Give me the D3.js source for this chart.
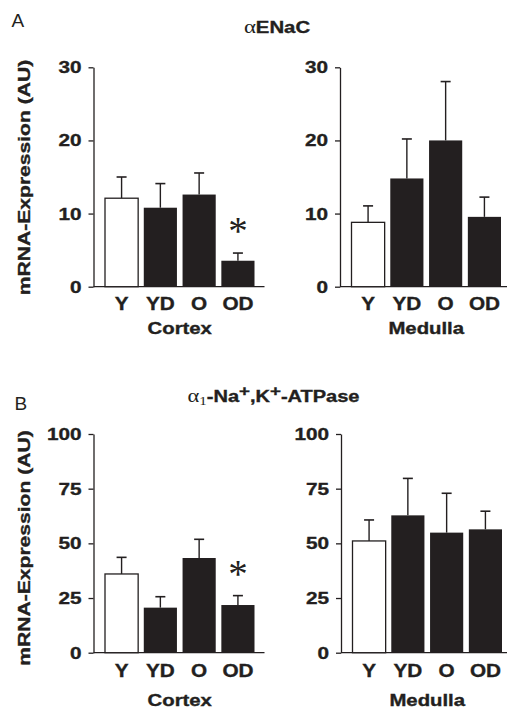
<!DOCTYPE html>
<html>
<head>
<meta charset="utf-8">
<script src="https://cdn.jsdelivr.net/npm/d3@7"></script>
<style>
  body { margin: 0; background: #fff; }
  text { font-family: "Liberation Sans", Arial, sans-serif; fill: #231f20; }
  text.heavy { stroke: #231f20; stroke-width: 0.35; }
</style>
</head>
<body>
<script>
// group labels
const cats = ["Y", "YD", "O", "OD"];

// alpha ENaC (AU), mean and SEM
const enacCortex = [12.1, 10.8, 12.6, 3.55];
const enacCortexErr = [2.9, 3.3, 2.95, 1.05];
const enacMedulla = [8.8, 14.8, 20.0, 9.55];
const enacMedullaErr = [2.25, 5.4, 8.05, 2.7];

// alpha1 Na,K-ATPase (AU)
const atpCortex = [36.0, 20.6, 43.3, 21.8];
const atpCortexErr = [7.6, 5.0, 8.55, 4.3];
const atpMedulla = [51.1, 62.8, 54.9, 56.4];
const atpMedullaErr = [9.6, 16.9, 18.0, 8.3];

// significance marks (asterisk)
const cortexSig = [false, false, false, true];
const medullaSig = [false, false, false, false];

const enacTicks = [0, 10, 20, 30];
const atpTicks = [0, 25, 50, 75, 100];

const ink = "#231f20";
const width = 507, height = 711;

const svg = d3.select("body").append("svg")
  .attr("width", width)
  .attr("height", height);

// stretch text along its baseline (the original lettering is wide)
function widen(sel, k) {
  sel.each(function() {
    var w = this.getComputedTextLength();
    d3.select(this).attr("textLength", w * k).attr("lengthAdjust", "spacingAndGlyphs");
  });
}

var yTop = d3.scaleLinear().domain([0, 30]).range([286.7, 67.3]);
var yBot = d3.scaleLinear().domain([0, 100]).range([652.7, 434]);

function drawPanel(p) {
  var x = d3.scaleBand()
    .domain(cats)
    .range([p.ax + 11.5, p.ax + 161])
    .paddingInner(0.145)
    .paddingOuter(0);
  var y = p.y;
  var g = svg.append("g");

  var axis = g.append("g")
    .attr("transform", `translate(${p.ax},0)`)
    .call(d3.axisLeft(y).tickValues(p.ticks).tickSize(5).tickSizeOuter(0).tickPadding(7));
  axis.select(".domain").attr("stroke", ink).attr("stroke-width", 1.3);
  axis.selectAll(".tick line").attr("stroke", ink).attr("stroke-width", 1.3);
  var tl = axis.selectAll(".tick text")
    .attr("class", "heavy")
    .attr("font-size", 17)
    .attr("font-weight", "bold")
    .attr("fill", ink)
    .style("font-family", '"Liberation Sans", Arial, sans-serif');
  widen(tl, 1.22);

  // baseline
  g.append("line")
    .attr("x1", p.ax).attr("x2", p.ax + 171)
    .attr("y1", y(0)).attr("y2", y(0))
    .attr("stroke", ink).attr("stroke-width", 1.3);

  var rows = cats.map((c, i) => ({ c: c, v: p.vals[i], e: p.errs[i], s: p.sig[i] }));

  // error bars (upper only)
  var eb = g.selectAll(".err").data(rows).enter().append("g");
  eb.append("line")
    .attr("x1", d => x(d.c) + x.bandwidth() / 2)
    .attr("x2", d => x(d.c) + x.bandwidth() / 2)
    .attr("y1", d => y(d.v))
    .attr("y2", d => y(d.v + d.e))
    .attr("stroke", ink).attr("stroke-width", 1.4);
  eb.append("line")
    .attr("x1", d => x(d.c) + x.bandwidth() / 2 - 5)
    .attr("x2", d => x(d.c) + x.bandwidth() / 2 + 5)
    .attr("y1", d => y(d.v + d.e))
    .attr("y2", d => y(d.v + d.e))
    .attr("stroke", ink).attr("stroke-width", 1.6);

  g.selectAll(".bar").data(rows).enter().append("rect")
    .attr("x", d => x(d.c))
    .attr("width", x.bandwidth())
    .attr("y", d => y(d.v))
    .attr("height", d => y(0) - y(d.v))
    .attr("fill", (d, i) => i === 0 ? "#fff" : ink)
    .attr("stroke", ink)
    .attr("stroke-width", (d, i) => i === 0 ? 1.3 : 0);

  g.selectAll(".star").data(rows.filter(d => d.s)).enter().append("text")
    .attr("x", d => x(d.c) + x.bandwidth() / 2)
    .attr("y", d => y(d.v + d.e) - 9)
    .attr("text-anchor", "middle")
    .attr("font-size", 39)
    .style("font-family", '"Liberation Serif", "Times New Roman", serif')
    .text("*");

  var cl = g.selectAll(".cat").data(cats).enter().append("text")
    .attr("class", "heavy")
    .attr("x", d => x(d) + x.bandwidth() / 2)
    .attr("y", p.catY)
    .attr("text-anchor", "middle")
    .attr("font-size", 18)
    .attr("font-weight", "bold")
    .text(d => d);
  widen(cl, 1.15);

  var rl = g.append("text")
    .attr("class", "heavy")
    .attr("x", (x.range()[0] + x.range()[1]) / 2)
    .attr("y", p.regionY)
    .attr("text-anchor", "middle")
    .attr("font-size", 16)
    .attr("font-weight", "bold")
    .text(p.region);
  widen(rl, 1.27);
}

drawPanel({ ax: 93.5, y: yTop, ticks: enacTicks, vals: enacCortex, errs: enacCortexErr, sig: cortexSig, region: "Cortex", catY: 310, regionY: 334 });
drawPanel({ ax: 340, y: yTop, ticks: enacTicks, vals: enacMedulla, errs: enacMedullaErr, sig: medullaSig, region: "Medulla", catY: 310, regionY: 334 });
drawPanel({ ax: 93.5, y: yBot, ticks: atpTicks, vals: atpCortex, errs: atpCortexErr, sig: cortexSig, region: "Cortex", catY: 676.5, regionY: 706 });
drawPanel({ ax: 341, y: yBot, ticks: atpTicks, vals: atpMedulla, errs: atpMedullaErr, sig: medullaSig, region: "Medulla", catY: 676.5, regionY: 706 });

// y axis titles
[[177.5, yTop], [548, yBot]].forEach(function(a) {
  var t = svg.append("text")
    .attr("class", "heavy")
    .attr("transform", `translate(29.5,${a[0]}) rotate(-90)`)
    .attr("text-anchor", "middle")
    .attr("font-size", 17)
    .attr("font-weight", "bold")
    .text("mRNA-Expression (AU)");
  widen(t, 1.24);
});

// panel letters
svg.append("text").attr("x", 11.5).attr("y", 27).attr("font-size", 19).text("A");
svg.append("text").attr("x", 14.5).attr("y", 410).attr("font-size", 19).text("B");

// title A
var tA = svg.append("text")
  .attr("class", "heavy")
  .attr("x", 277).attr("y", 33.3)
  .attr("text-anchor", "middle")
  .attr("font-size", 16)
  .attr("font-weight", "bold");
tA.append("tspan").attr("font-weight", "normal").attr("font-size", 18).attr("stroke-width", 0)
  .style("font-family", '"Liberation Serif", serif').text("α");
tA.append("tspan").text("ENaC");
widen(tA, 1.27);

// title B
var tB = svg.append("text")
  .attr("class", "heavy")
  .attr("x", 273.5).attr("y", 402)
  .attr("text-anchor", "middle")
  .attr("font-size", 16)
  .attr("font-weight", "bold");
tB.append("tspan").attr("font-weight", "normal").attr("font-size", 18).attr("stroke-width", 0)
  .style("font-family", '"Liberation Serif", serif').text("α");
tB.append("tspan").attr("font-weight", "normal").attr("font-size", 12).attr("dy", 3).attr("stroke-width", 0)
  .style("font-family", '"Liberation Serif", serif').text("1");
tB.append("tspan").attr("dy", -3).text("-Na");
tB.append("tspan").attr("font-size", 15).attr("dy", -6).text("+");
tB.append("tspan").attr("dy", 6).text(",K");
tB.append("tspan").attr("font-size", 15).attr("dy", -6).text("+");
tB.append("tspan").attr("dy", 6).text("-ATPase");
widen(tB, 1.25);
</script>
</body>
</html>
